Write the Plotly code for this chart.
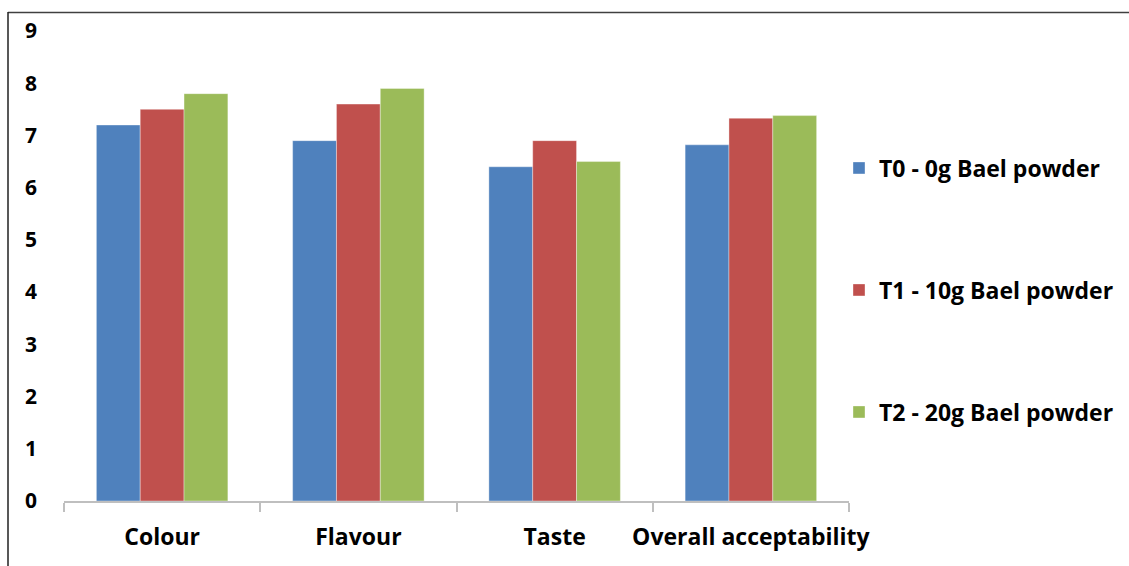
import plotly.graph_objects as go

categories = ["Colour", "Flavour", "Taste", "Overall acceptability"]
series_names = ["T0 - 0g Bael powder", "T1 - 10g Bael powder", "T2 - 20g Bael powder"]
t0_values = [7.2, 6.9, 6.4, 6.82]
t1_values = [7.5, 7.6, 6.9, 7.33]
t2_values = [7.8, 7.9, 6.5, 7.38]
y_ticks = [0, 1, 2, 3, 4, 5, 6, 7, 8, 9]

colors = ["#4F81BD", "#C0504D", "#9BBB59"]
FONT = "Open Sans"
W, H = 1129, 566
legend_ids = ["legend", "legend2", "legend3"]
legend_centers_px = [168, 290, 412]

fig = go.Figure()
for i, (name, vals) in enumerate(zip(series_names, [t0_values, t1_values, t2_values])):
    fig.add_trace(go.Bar(
        x=categories, y=vals, name=name,
        marker=dict(color=colors[i], line=dict(color="rgba(255,255,255,0.6)", width=0.6)),
        legend=legend_ids[i],
    ))

legend_common = dict(
    xref="container", yref="container", xanchor="left", yanchor="middle",
    font=dict(family=FONT, size=23, color="black", weight="bold"),
    bgcolor="rgba(0,0,0,0)", borderwidth=0,
)
legend_layout = {}
for lid, cy in zip(legend_ids, legend_centers_px):
    legend_layout[lid] = dict(legend_common, x=839 / W, y=1 - cy / H)

fig.update_layout(
    width=W, height=H,
    margin=dict(l=64, r=W - 849, t=31, b=H - 501, autoexpand=False),
    paper_bgcolor="white", plot_bgcolor="white",
    barmode="group", bargap=0.33, bargroupgap=0,
    font=dict(family=FONT, size=20, color="black"),
    showlegend=True,
    xaxis=dict(
        showgrid=False, showline=True, linecolor="#BFBFBF", linewidth=1.5,
        ticks="outside", tickson="boundaries", ticklen=9, tickcolor="#BFBFBF", tickwidth=1.5,
        tickfont=dict(family=FONT, size=23, color="black", weight="bold"),
        tickangle=0, automargin=False, ticklabelstandoff=15,
    ),
    yaxis=dict(
        range=[0, 9], tickvals=y_ticks, showgrid=False, zeroline=False, showline=False,
        ticks="", tickfont=dict(family=FONT, size=21, color="black", weight="bold"),
        ticklabelstandoff=26, automargin=False,
    ),
    shapes=[
        dict(type="line", xref="paper", yref="paper", x0=(8 - 64) / 785, x1=(W - 64) / 785,
             y0=1 + (31 - 12.5) / 470, y1=1 + (31 - 12.5) / 470,
             line=dict(color="#404040", width=1.5)),
        dict(type="line", xref="paper", yref="paper", x0=(8 - 64) / 785, x1=(8 - 64) / 785,
             y0=1 + (31 - 12) / 470, y1=-(H - 501) / 470,
             line=dict(color="#202020", width=1.5)),
    ],
    **legend_layout,
)

fig.write_html("out.html")
